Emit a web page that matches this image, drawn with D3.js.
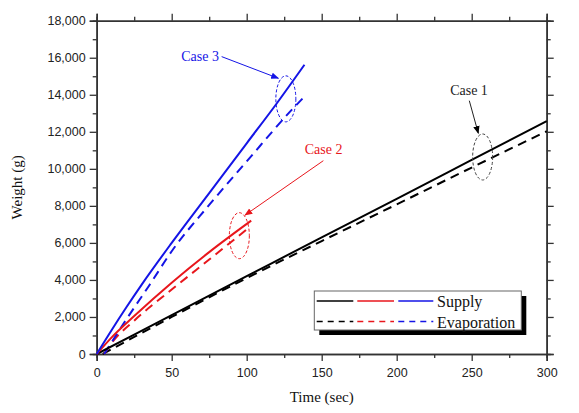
<!DOCTYPE html>
<html>
<head>
<meta charset="utf-8">
<script src="https://cdn.jsdelivr.net/npm/d3@7"></script>
<style>
  html, body { margin: 0; padding: 0; background: #fff; }
  svg { display: block; }
  .tick text { font-family: "Liberation Sans", Arial, sans-serif; font-size: 12.5px; fill: #222; }
  .serif { font-family: "Liberation Serif", "Times New Roman", serif; }
</style>
</head>
<body>
<svg id="chart" width="579" height="413"></svg>
<script>
// ---------- data ----------
const case1Time   = [0, 50, 100, 150, 200, 250, 300];
const case1Supply = [0, 2100, 4200, 6300, 8380, 10480, 12580];
const case1EvapTime = [4, 50, 100, 150, 200, 250, 300];
const case1Evap     = [0, 2000, 4100, 6100, 8080, 10070, 12030];

const case2Time   = [0, 10, 25, 50, 75, 103];
const case2Supply = [0, 900, 2050, 3850, 5500, 7200];
const case2EvapTime = [5, 10, 25, 50, 75, 101];
const case2Evap     = [0, 600, 1800, 3480, 5100, 6790];

const case3Time   = [0, 10, 20, 30, 50, 75, 100, 120, 138.5];
const case3Supply = [0, 1300, 2550, 3750, 6000, 8690, 11380, 13530, 15620];
const case3EvapTime = [5, 20, 35, 50, 75, 100, 131, 138];
const case3Evap     = [0, 1900, 3700, 5550, 8050, 10400, 13270, 13860];

const xTicks = [0, 50, 100, 150, 200, 250, 300];
const yTicks = [0, 2000, 4000, 6000, 8000, 10000, 12000, 14000, 16000, 18000];
const seriesNames = ["Supply", "Evaporation"];
const caseColors = ["#000000", "#e8161c", "#1414e6"];
const caseLabels = ["Case 1", "Case 2", "Case 3"];
// annotation anchors in data units: label (t,v), arrow from/to, ellipse centre
const labelPos   = [[248.2, 13990], [151.3, 10800], [68.9, 15820]];
const arrowFrom  = [[248.4, 13680], [151.1, 10440], [83.3, 16060]];
const arrowTo    = [[254.4, 11920], [98.9, 7500],  [121.1, 14890]];
const ellipseAt  = [[257.3, 10640], [95.1, 6390],  [126.1, 13780]];

// ---------- layout ----------
const svg = d3.select("#chart");
const L = 96.7, R = 546.7, T = 20.7, B = 354;
const x = d3.scaleLinear().domain([0, 300]).range([L, R]);
const y = d3.scaleLinear().domain([0, 18000]).range([B, T]);

const axisColor = "#333";
const minorX = d3.range(0, 301, 25).filter(v => v % 50 !== 0);
const minorY = d3.range(0, 18001, 1000).filter(v => v % 2000 !== 0);

function styleAxis(g) {
  g.select(".domain").attr("stroke", axisColor).attr("stroke-width", 1.6);
  g.selectAll(".tick line").attr("stroke", axisColor).attr("stroke-width", 1.3);
}

// minor ticks
svg.append("g").attr("transform", `translate(0,${B})`)
  .call(d3.axisBottom(x).tickValues(minorX).tickSize(4).tickFormat(""))
  .call(styleAxis);
svg.append("g").attr("transform", `translate(0,${T})`)
  .call(d3.axisTop(x).tickValues(minorX).tickSize(4).tickFormat(""))
  .call(styleAxis);
svg.append("g").attr("transform", `translate(${L},0)`)
  .call(d3.axisLeft(y).tickValues(minorY).tickSize(4).tickFormat(""))
  .call(styleAxis);
svg.append("g").attr("transform", `translate(${R},0)`)
  .call(d3.axisRight(y).tickValues(minorY).tickSize(4).tickFormat(""))
  .call(styleAxis);

// major ticks
svg.append("g").attr("transform", `translate(0,${B})`)
  .call(d3.axisBottom(x).tickValues(xTicks).tickSize(7).tickPadding(7).tickFormat(d3.format("d")))
  .call(styleAxis);
svg.append("g").attr("transform", `translate(0,${T})`)
  .call(d3.axisTop(x).tickValues(xTicks).tickSize(7).tickFormat(""))
  .call(styleAxis);
svg.append("g").attr("transform", `translate(${L},0)`)
  .call(d3.axisLeft(y).tickValues(yTicks).tickSize(7).tickPadding(4).tickFormat(d3.format(",")))
  .call(styleAxis);
svg.append("g").attr("transform", `translate(${R},0)`)
  .call(d3.axisRight(y).tickValues(yTicks).tickSize(7).tickFormat(""))
  .call(styleAxis);

// axis titles
svg.append("text").attr("class", "serif")
  .attr("x", (L + R) / 2).attr("y", 402)
  .attr("text-anchor", "middle").attr("font-size", 15).attr("fill", "#111")
  .text("Time (sec)");
svg.append("text").attr("class", "serif")
  .attr("transform", `translate(22,${(T + B) / 2}) rotate(-90)`)
  .attr("text-anchor", "middle").attr("font-size", 15).attr("fill", "#111")
  .text("Weight (g)");

// ---------- lines ----------
const line = d3.line().curve(d3.curveMonotoneX).x(d => x(d[0])).y(d => y(d[1]));
const supplyData = [
  d3.zip(case1Time, case1Supply),
  d3.zip(case2Time, case2Supply),
  d3.zip(case3Time, case3Supply)
];
const evapData = [
  d3.zip(case1EvapTime, case1Evap),
  d3.zip(case2EvapTime, case2Evap),
  d3.zip(case3EvapTime, case3Evap)
];
const plot = svg.append("g");
evapData.forEach((d, i) => {
  plot.append("path").datum(d).attr("d", line)
    .attr("fill", "none").attr("stroke", caseColors[i])
    .attr("stroke-width", 2).attr("stroke-dasharray", "9,6");
});
supplyData.forEach((d, i) => {
  plot.append("path").datum(d).attr("d", line)
    .attr("fill", "none").attr("stroke", caseColors[i])
    .attr("stroke-width", 2);
});

// ---------- annotations ----------
const defs = svg.append("defs");
caseColors.forEach((c, i) => {
  defs.append("marker").attr("id", "arr" + i)
    .attr("viewBox", "0 0 10 10").attr("refX", 9).attr("refY", 5)
    .attr("markerWidth", 8).attr("markerHeight", 8).attr("markerUnits", "userSpaceOnUse")
    .attr("orient", "auto")
    .append("path").attr("d", "M0,1 L10,5 L0,9 Z").attr("fill", c);
});
const ann = svg.append("g");
caseLabels.forEach((lab, i) => {
  const col = i === 0 ? "#222" : caseColors[i];
  ann.append("ellipse")
    .attr("cx", x(ellipseAt[i][0])).attr("cy", y(ellipseAt[i][1]))
    .attr("rx", 10).attr("ry", 23)
    .attr("fill", "none").attr("stroke", i === 0 ? "#444" : caseColors[i])
    .attr("stroke-width", 1).attr("stroke-dasharray", "3,2");
  ann.append("line")
    .attr("x1", x(arrowFrom[i][0])).attr("y1", y(arrowFrom[i][1]))
    .attr("x2", x(arrowTo[i][0])).attr("y2", y(arrowTo[i][1]))
    .attr("stroke", col).attr("stroke-width", 1)
    .attr("marker-end", `url(#arr${i})`);
  ann.append("text").attr("class", "serif")
    .attr("x", x(labelPos[i][0])).attr("y", y(labelPos[i][1]))
    .attr("text-anchor", "middle").attr("font-size", 14).attr("fill", col)
    .text(lab);
});

// ---------- legend ----------
const lg = svg.append("g");
const bx = 314.3, by = 291, bw = 207, bh = 39;
lg.append("rect").attr("x", bx + 5).attr("y", by + 5).attr("width", bw).attr("height", bh).attr("fill", "#000");
lg.append("rect").attr("x", bx).attr("y", by).attr("width", bw).attr("height", bh)
  .attr("fill", "#fff").attr("stroke", "#666").attr("stroke-width", 1);
const segX = [[316.7, 353.3], [357.3, 394], [398.3, 433.3]];
const rowY = [301, 321.5];
seriesNames.forEach((name, r) => {
  caseColors.forEach((c, i) => {
    lg.append("line")
      .attr("x1", segX[i][0]).attr("x2", segX[i][1])
      .attr("y1", rowY[r]).attr("y2", rowY[r])
      .attr("stroke", c).attr("stroke-width", 1.6)
      .attr("stroke-dasharray", r === 1 ? "6,5" : null);
  });
  lg.append("text").attr("class", "serif")
    .attr("x", 437).attr("y", rowY[r] + 6)
    .attr("font-size", 16).attr("fill", "#111")
    .text(name);
});
</script>
</body>
</html>
